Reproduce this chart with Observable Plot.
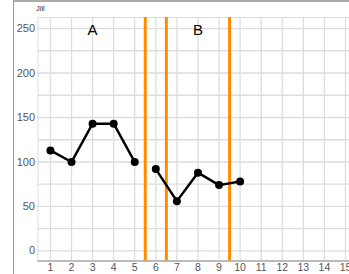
<!DOCTYPE html>
<html>
<head>
<meta charset="utf-8">
<script src="https://cdn.jsdelivr.net/npm/d3@7"></script>
<script src="https://cdn.jsdelivr.net/npm/@observablehq/plot@0.6"></script>
<style>
  body { margin: 0; background: #fff; font-family: "Liberation Sans", Arial, sans-serif; }
  #wrap { position: relative; width: 349px; height: 274px; overflow: hidden; }
  #frame { position: absolute; left: 13px; top: 0; width: 340px; height: 280px;
           border-left: 1px solid #999; border-top: 2px solid #aaa; box-sizing: border-box; pointer-events: none; }
  #title { position: absolute; left: 36px; top: 4px; font-size: 7.5px; color: #333; }
  svg { position: absolute; left: 0; top: 0; }
</style>
</head>
<body>
<div id="wrap"><div id="frame"></div><div id="title">Jill</div></div>
<script>
const sessionsA = [1, 2, 3, 4, 5];
const valuesA = [113, 100, 143, 143, 100];
const sessionsB = [6, 7, 8, 9, 10];
const valuesB = [92, 56, 88, 74, 78];
const phaseLines = [5.5, 6.5, 9.5];
const phaseLabels = ["A", "B"];
const phaseLabelX = [3, 8];
const xTicks = [1, 2, 3, 4, 5, 6, 7, 8, 9, 10, 11, 12, 13, 14, 15];
const yTicks = [0, 50, 100, 150, 200, 250];
const yGrid = [0, 25, 50, 75, 100, 125, 150, 175, 200, 225, 250];

const data = [
  ...sessionsA.map((x, i) => ({x, y: valuesA[i], phase: "A"})),
  ...sessionsB.map((x, i) => ({x, y: valuesB[i], phase: "B"}))
];
const labels = phaseLabels.map((t, i) => ({t, x: phaseLabelX[i], y: 248}));

const chart = Plot.plot({
  width: 349,
  height: 274,
  marginTop: 17,
  marginBottom: 13.5,
  marginLeft: 37.5,
  marginRight: 0,
  style: {background: "transparent", fontFamily: "Liberation Sans, Arial, sans-serif"},
  x: {domain: [0.41, 15.19], ticks: xTicks, tickSize: 0, tickPadding: 3, label: null},
  y: {domain: [-11.3, 262.4], ticks: yTicks, tickSize: 0, tickPadding: 3, label: null},
  marks: [
    Plot.gridX(xTicks, {stroke: "#ddd", strokeOpacity: 1, strokeWidth: 1.3}),
    Plot.gridY(yGrid, {stroke: "#ddd", strokeOpacity: 1, strokeWidth: 1.3}),
    Plot.frame({stroke: "#ddd", strokeWidth: 1}),
    Plot.axisX(xTicks, {tickSize: 0, tickPadding: 3, fill: "#555", fontSize: 10.5, label: null}),
    Plot.axisY(yTicks, {tickSize: 0, tickPadding: 3, fill: "#555", fontSize: 11, label: null}),
    Plot.ruleY([-11.3], {stroke: "#aaa", strokeWidth: 1.5}),
    Plot.ruleX(phaseLines, {stroke: "#ff8c00", strokeWidth: 3}),
    Plot.line(data, {x: "x", y: "y", z: "phase", stroke: "#000", strokeWidth: 2.5}),
    Plot.dot(data, {x: "x", y: "y", r: 4, fill: "#000"}),
    Plot.text(labels, {x: "x", y: "y", text: "t", fontSize: 15, fill: "#000"})
  ]
});
document.getElementById("wrap").prepend(chart);
</script>
</body>
</html>
